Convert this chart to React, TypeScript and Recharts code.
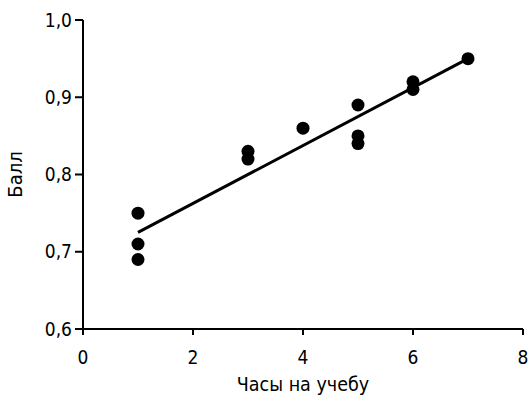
import { ScatterChart, Scatter, XAxis, YAxis, Label } from "recharts";

const hours = [1, 1, 1, 3, 3, 4, 5, 5, 5, 6, 6, 7];
const scores = [0.75, 0.71, 0.69, 0.83, 0.82, 0.86, 0.89, 0.85, 0.84, 0.92, 0.91, 0.95];

// линия тренда: концы
const trendHours = [1, 7];
const trendScores = [0.725, 0.95];

const xTicks = [0, 2, 4, 6, 8];
const yTicks = [0.6, 0.7, 0.8, 0.9, 1.0];

const FONT = "'DejaVu Sans Condensed', 'Liberation Sans Narrow', sans-serif";

const points = hours.map((h, i) => ({ x: h, y: scores[i] }));
const trend = trendHours.map((h, i) => ({ x: h, y: trendScores[i] }));

const fmt = (v: number) => v.toFixed(1).replace(".", ",");

const Dot = (props: any) => <circle cx={props.cx} cy={props.cy} r={6.5} fill="#000" />;
const NoDot = () => <g />;

export default function App() {
  return (
    <div style={{ position: "absolute", left: 0, top: 0 }}>
      <ScatterChart
        width={531}
        height={402}
        margin={{ top: 20, right: 8, bottom: 43, left: 33 }}
        style={{ fontFamily: FONT }}
      >
        <XAxis
          type="number"
          dataKey="x"
          domain={[0, 8]}
          ticks={xTicks}
          height={30}
          stroke="#000"
          strokeWidth={2}
          tickSize={6}
          tickMargin={16}
          tick={{ fill: "#000", fontSize: 19 }}
        >
          <Label value="Часы на учебу" position="bottom" offset={18} fill="#000" fontSize={19.5} />
        </XAxis>
        <YAxis
          type="number"
          dataKey="y"
          domain={[0.6, 1.0]}
          ticks={yTicks}
          tickFormatter={fmt}
          width={50}
          stroke="#000"
          strokeWidth={2}
          tickSize={8}
          tickMargin={3}
          tick={{ fill: "#000", fontSize: 19 }}
        >
          <Label
            value="Балл"
            angle={-90}
            position="insideLeft"
            offset={-18}
            textAnchor="middle"
            fill="#000"
            fontSize={20}
          />
        </YAxis>
        <Scatter data={points} shape={Dot} isAnimationActive={false} />
        <Scatter
          data={trend}
          shape={NoDot}
          line={{ stroke: "#000", strokeWidth: 3 }}
          isAnimationActive={false}
        />
      </ScatterChart>
    </div>
  );
}
